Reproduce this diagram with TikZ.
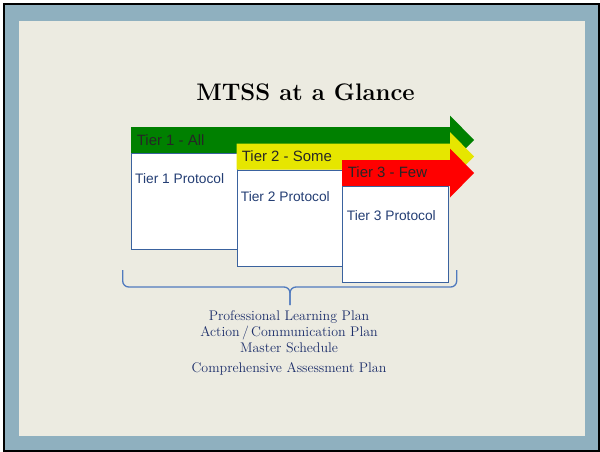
\documentclass[tikz,border=0pt]{standalone}
\usepackage{fontspec}
\newfontfamily\tierfont{Liberation Sans}
\usetikzlibrary{shapes}

\definecolor{slateframe}{RGB}{143,176,191}
\definecolor{paper}{RGB}{236,235,225}
\definecolor{tiergreen}{RGB}{0,128,0}
\definecolor{tieryellow}{RGB}{230,230,0}
\definecolor{tierred}{RGB}{255,0,0}
\definecolor{boxedge}{RGB}{58,98,158}
\definecolor{navy}{RGB}{36,62,116}
\definecolor{plannavy}{RGB}{28,46,106}
\definecolor{bracecol}{RGB}{80,122,190}

\tikzset{
  tierbox/.style={draw=boxedge,line width=1.2bp,fill=white,anchor=north west,minimum width=106bp,minimum height=96bp,inner sep=0pt},
  barlabel/.style={anchor=base west,inner sep=0pt,text=black!85,font=\tierfont\fontsize{15}{18}\selectfont},
  protlabel/.style={anchor=base west,inner sep=0pt,text=navy,font=\tierfont\fontsize{13.8}{16}\selectfont},
  planlabel/.style={anchor=base,inner sep=0pt,text=plannavy,font=\fontsize{14}{16}\selectfont},
}

\begin{document}
\begin{tikzpicture}

% slide frame
\useasboundingbox[fill=white] (0bp,0bp) rectangle (600bp,-452bp);
\fill[slateframe] (4bp,-5bp) rectangle (598bp,-450bp);
\fill[paper] (19bp,-21bp) rectangle (585bp,-436bp);
\draw[line width=2bp] (3.5bp,-4bp) rectangle (598.5bp,-451bp);

\node (title) at (305.5bp,-100bp)[anchor=base,inner sep=0pt,font=\bfseries\fontsize{24}{28}\selectfont] {MTSS at a Glance};

% tier 1
\fill[tiergreen] (131bp,-127bp) -- (450bp,-127bp) -- (450bp,-115.5bp) -- (474bp,-140bp) -- (450bp,-164.5bp) -- (450bp,-153bp) -- (131bp,-153bp) -- cycle;
\node (lblall) at (136.7bp,-145bp)[barlabel] {Tier 1 - All};
\node (box1) at (131bp,-153bp)[tierbox] {};
\node (prot1) at (135bp,-183.3bp)[protlabel] {Tier 1 Protocol};

% tier 2
\fill[tieryellow] (236.5bp,-143.5bp) -- (450bp,-143.5bp) -- (450bp,-132bp) -- (474bp,-156.5bp) -- (450bp,-181bp) -- (450bp,-169.5bp) -- (236.5bp,-169.5bp) -- cycle;
\node (lblsome) at (241.7bp,-161.5bp)[barlabel] {Tier 2 - Some};
\node (box2) at (236.5bp,-169.5bp)[tierbox] {};
\node (prot2) at (240.7bp,-201.5bp)[protlabel] {Tier 2 Protocol};

% tier 3
\fill[tierred] (342bp,-160bp) -- (450bp,-160bp) -- (450bp,-148.5bp) -- (474bp,-173bp) -- (450bp,-197.5bp) -- (450bp,-186bp) -- (342bp,-186bp) -- cycle;
\node (lblfew) at (347.7bp,-177.7bp)[barlabel] {Tier 3 - Few};
\node (box3) at (342bp,-186bp)[tierbox] {};
\node (prot3) at (346.7bp,-220.5bp)[protlabel] {Tier 3 Protocol};

% brace under the tiers
\draw[bracecol,line width=1.3bp,rounded corners=6bp] (122.7bp,-270bp) |- (290bp,-287bp) -- (290bp,-305bp);
\draw[bracecol,line width=1.3bp,rounded corners=6bp] (456.7bp,-270bp) |- (290bp,-287bp) -- (290bp,-305bp);

\node (plan1) at (289bp,-320bp)[planlabel] {Professional Learning Plan};
\node (plan2) at (289bp,-336bp)[planlabel] {Action\,/\,Communication Plan};
\node (plan3) at (289bp,-352.3bp)[planlabel] {Master Schedule};
\node (plan4) at (289bp,-372.3bp)[planlabel] {Comprehensive Assessment Plan};
\end{tikzpicture}
\end{document}
